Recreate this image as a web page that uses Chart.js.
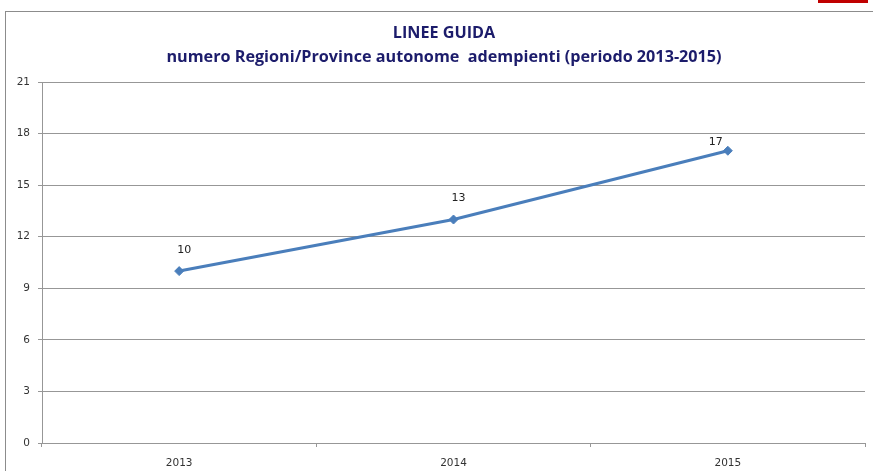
<!DOCTYPE html>
<html>
<head>
<meta charset="utf-8">
<script src="https://cdn.jsdelivr.net/npm/chart.js@4"></script>
<style>
  html, body { margin: 0; padding: 0; background: #fff; }
  #wrap { position: relative; width: 873px; height: 471px; overflow: hidden; }
  #frame { position: absolute; left: 5px; top: 11px; width: 900px; height: 500px;
           border-top: 1px solid #8c8c8c; border-left: 1px solid #8c8c8c; }
  #redbar { position: absolute; left: 818px; top: 0; width: 50px; height: 3px; background: #c00000; }
  canvas { position: absolute; left: 0; top: 0; }
</style>
</head>
<body>
<div id="wrap">
  <div id="frame"></div>
  <div id="redbar"></div>
  <canvas id="chart" width="873" height="471"></canvas>
</div>
<script>
var years = ['2013', '2014', '2015'];
var adempienti = [10, 13, 17];
var titleLines = ['LINEE GUIDA', 'numero Regioni/Province autonome  adempienti (periodo 2013-2015)'];

var lineColor = '#4a7ebb';
var gridColor = '#979797';
var tickColor = '#333333';
var tickFont = { family: '"DejaVu Sans", Verdana, sans-serif', size: 10.5 };

// titolo disegnato a mano: in Excel non e' centrato sul canvas
var chartTitle = {
    id: 'chartTitle',
    afterDraw: function (chart) {
        var ctx = chart.ctx;
        ctx.save();
        ctx.font = 'bold 16.2px "Open Sans", "Liberation Sans", sans-serif';
        ctx.fillStyle = '#1c1c6b';
        ctx.textAlign = 'center';
        ctx.textBaseline = 'middle';
        ctx.fillText(titleLines[0], 444, 33);
        ctx.fillText(titleLines[1], 444, 57);
        ctx.restore();
    }
};

// valori sopra i punti, come in Excel
var valueLabels = {
    id: 'valueLabels',
    afterDatasetsDraw: function (chart) {
        var ctx = chart.ctx;
        var meta = chart.getDatasetMeta(0);
        ctx.save();
        ctx.font = '11px "DejaVu Sans", Verdana, sans-serif';
        ctx.fillStyle = '#222';
        ctx.textAlign = 'center';
        ctx.textBaseline = 'middle';
        meta.data.forEach(function (p, i) {
            var last = i === meta.data.length - 1;
            var dx = last ? -12 : 5;
            var dy = last ? -9 : -21;
            ctx.fillText(String(adempienti[i]), p.x + dx, p.y + dy);
        });
        ctx.restore();
    }
};

new Chart(document.getElementById('chart').getContext('2d'), {
    type: 'line',
    data: {
        labels: years,
        datasets: [{
            data: adempienti,
            borderColor: lineColor,
            backgroundColor: lineColor,
            borderWidth: 3,
            pointStyle: 'rectRot',
            pointRadius: 4.5,
            pointBorderWidth: 1,
            tension: 0,
            clip: false
        }]
    },
    plugins: [chartTitle, valueLabels],
    options: {
        responsive: false,
        animation: false,
        layout: { padding: { left: 0, right: 8, top: 82, bottom: 0 } },
        plugins: {
            legend: { display: false },
            tooltip: { enabled: false },
            title: { display: false }
        },
        scales: {
            y: {
                min: 0,
                max: 21,
                afterFit: function (scale) { scale.width = 42; },
                border: { color: gridColor, width: 1 },
                grid: { color: gridColor, tickLength: 4, drawTicks: true },
                ticks: { stepSize: 3, color: tickColor, padding: 8, font: tickFont }
            },
            x: {
                offset: true,
                afterFit: function (scale) { scale.height = 28; },
                border: { color: gridColor, width: 1 },
                grid: { offset: true, color: gridColor, tickLength: 4, drawOnChartArea: false },
                ticks: { color: tickColor, padding: 10, font: tickFont }
            }
        }
    }
});
</script>
</body>
</html>
